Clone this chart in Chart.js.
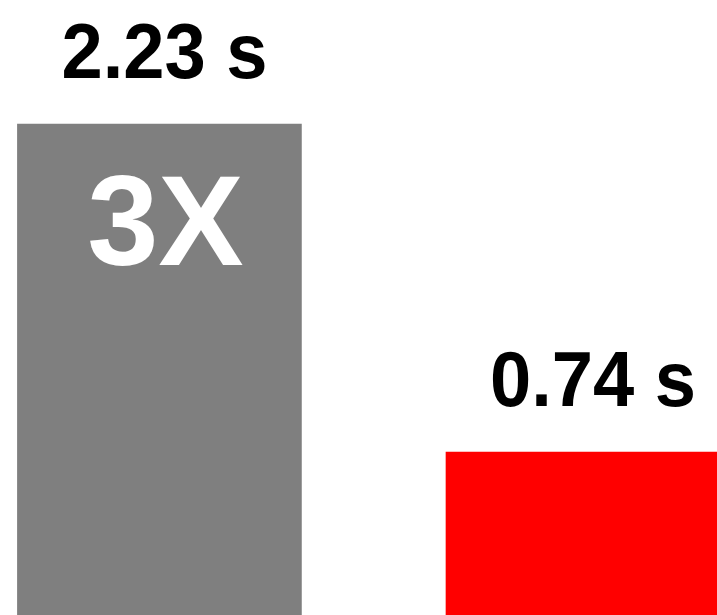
<!DOCTYPE html>
<html>
<head>
<meta charset="utf-8">
<script src="https://cdn.jsdelivr.net/npm/chart.js@4/dist/chart.umd.min.js"></script>
<style>
  html, body { margin: 0; padding: 0; background: #fff; }
  #wrap { width: 717px; height: 615px; position: relative; }
</style>
</head>
<body>
<div id="wrap"><canvas id="chart"></canvas></div>
<script>
const categories = ["Before", "After"];
const times = [2.23, 0.74];
const barColors = ["#7f7f7f", "#ff0000"];
const speedupLabel = "3X";

const valueLabels = {
  id: "valueLabels",
  afterDatasetsDraw(chart) {
    const ctx = chart.ctx;
    const meta = chart.getDatasetMeta(0);
    ctx.save();
    ctx.textAlign = "center";
    ctx.textBaseline = "alphabetic";
    meta.data.forEach((bar, i) => {
      ctx.save();
      ctx.translate(bar.x + 5, bar.y - 46);
      ctx.scale(0.95, 1);
      ctx.fillStyle = "#000";
      ctx.font = 'bold 78px "Liberation Sans", Arial, sans-serif';
      ctx.fillText(`${times[i].toFixed(2)} s`, 0, 0);
      ctx.restore();
    });
    const first = meta.data[0];
    ctx.fillStyle = "#fff";
    ctx.font = 'bold 128px "Liberation Sans", Arial, sans-serif';
    ctx.fillText(speedupLabel, first.x + 6, first.y + 141);
    ctx.restore();
  }
};

new Chart(document.querySelector("#chart"), {
  type: "bar",
  data: {
    labels: categories,
    datasets: [{
      data: times.map((t, i) => ({ x: i, y: t })),
      backgroundColor: barColors,
      borderWidth: 0,
      barThickness: 284
    }]
  },
  options: {
    responsive: true,
    maintainAspectRatio: false,
    animation: false,
    layout: { padding: 0 },
    plugins: { legend: { display: false }, tooltip: { enabled: false } },
    scales: {
      x: { type: "linear", display: false, offset: false, min: -0.372, max: 1.301 },
      y: { display: false, min: 0, max: 2.793 }
    }
  },
  plugins: [valueLabels]
});
</script>
</body>
</html>
